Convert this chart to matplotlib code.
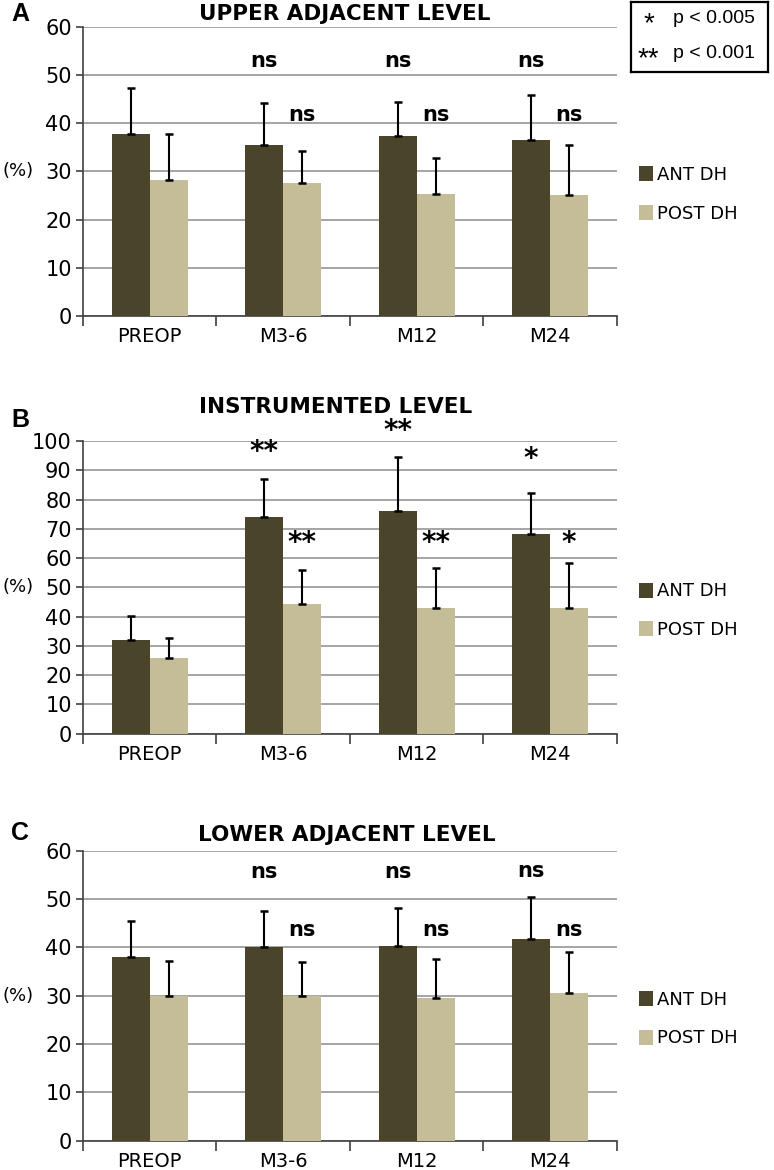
import numpy as np
import matplotlib.pyplot as plt

# categories and values
cats = ["PREOP", "M3-6", "M12", "M24"]
series = ["ANT DH", "POST DH"]

a_ant = [37.7, 35.5, 37.4, 36.6]
a_ant_err = [9.6, 8.7, 7.0, 9.2]
a_post = [28.2, 27.6, 25.4, 25.2]
a_post_err = [9.6, 6.6, 7.4, 10.2]

b_ant = [32.0, 74.2, 76.2, 68.2]
b_ant_err = [8.2, 12.9, 18.3, 13.9]
b_post = [25.9, 44.2, 42.8, 43.1]
b_post_err = [6.7, 11.7, 13.7, 15.1]

c_ant = [38.0, 40.0, 40.3, 41.7]
c_ant_err = [7.4, 7.6, 7.9, 8.6]
c_post = [30.0, 30.0, 29.5, 30.5]
c_post_err = [7.2, 7.0, 8.1, 8.5]

a_sig = ["", "ns", "ns", "ns"]
b_ant_sig = ["", "**", "**", "*"]
b_post_sig = ["", "**", "**", "*"]
c_sig = ["", "ns", "ns", "ns"]

key_marks = ["*", "**"]
key_text = ["p < 0.005", "p < 0.001"]

ANT_COL = "#4a452a"
POST_COL = "#c4bd97"
GRID_COL = "#969696"
FONT = "DejaVu Sans"

fig = plt.figure(figsize=(7.74, 11.7), dpi=100)


def panel(rect, letter, title, ant, ant_err, post, post_err, ymax,
          ant_sig, post_sig, ant_lab_y, post_lab_y, sig_size,
          title_x, title_off, letter_off):
    ax = fig.add_axes(rect)
    x = np.arange(len(cats))
    w = 0.285
    ax.bar(x - w / 2, ant, w, color=ANT_COL, zorder=3, label=series[0])
    ax.bar(x + w / 2, post, w, color=POST_COL, zorder=3, label=series[1])
    zeros = np.zeros(len(cats))
    ax.errorbar(x - w / 2, ant, yerr=[zeros, ant_err], fmt="none", ecolor="black",
                elinewidth=1.5, capsize=3.2, capthick=1.8, zorder=4)
    ax.errorbar(x + w / 2, post, yerr=[zeros, post_err], fmt="none", ecolor="black",
                elinewidth=1.5, capsize=3.2, capthick=1.8, zorder=4)

    ax.set_xlim(-0.5, len(cats) - 0.5)
    ax.set_ylim(0, ymax)
    ax.set_yticks(np.arange(0, ymax + 1, 10))
    ax.yaxis.grid(True, color=GRID_COL, linewidth=1.2, zorder=0)
    ax.set_axisbelow(True)
    for s in ["top", "right"]:
        ax.spines[s].set_visible(False)
    ax.spines["left"].set_color("#404040")
    ax.spines["bottom"].set_color("#404040")
    ax.spines["left"].set_linewidth(1.2)
    ax.spines["bottom"].set_linewidth(1.2)
    ax.set_xticks(np.arange(-0.5, len(cats), 1.0))
    ax.set_xticklabels([])
    ax.set_xticks(x, minor=True)
    ax.set_xticklabels(cats, minor=True, fontsize=14, family=FONT)
    ax.tick_params(axis="x", which="major", length=7, color="#404040", width=1.2)
    ax.tick_params(axis="x", which="minor", length=0, pad=8)
    ax.tick_params(axis="y", length=5, color="#404040", width=1.2, pad=3,
                   labelsize=15)

    for i in range(len(cats)):
        if ant_sig[i]:
            ax.text(x[i] - w / 2, max(ant_lab_y, ant[i] + ant_err[i] + 9 * ymax / 100),
                    ant_sig[i], ha="center", va="center", fontsize=sig_size,
                    fontweight="bold", family=FONT)
        if post_sig[i]:
            ax.text(x[i] + w / 2, post_lab_y, post_sig[i], ha="center", va="center",
                    fontsize=sig_size, fontweight="bold", family=FONT)

    ax.annotate(title, xy=(title_x, 1.0), xycoords="axes fraction",
                xytext=(0, title_off), textcoords="offset points",
                ha="center", va="center", fontsize=15.5, fontweight="bold", family=FONT)
    ax.text(-0.122, 0.5, "(%)", transform=ax.transAxes, ha="center", va="center",
            fontsize=13, family=FONT)
    ax.annotate(letter, xy=(0, 1.0), xycoords="axes fraction",
                xytext=(-45, letter_off), textcoords="offset points",
                ha="center", va="center", fontsize=18, fontweight="bold",
                family="Liberation Sans")

    ax.legend(loc="center left", bbox_to_anchor=(1.042, 0.42), frameon=False,
              prop={"family": FONT, "size": 13}, handlelength=0.75, handleheight=0.9,
              handletextpad=0.25, labelspacing=1.15, borderaxespad=0, borderpad=0)
    return ax


panel([0.107, 0.730, 0.690, 0.247], "A", "UPPER ADJACENT LEVEL",
      a_ant, a_ant_err, a_post, a_post_err, 60,
      a_sig, a_sig, 53, 41.8, 15, 0.49, 9.5, 9)
panel([0.107, 0.373, 0.690, 0.250], "B", "INSTRUMENTED LEVEL",
      b_ant, b_ant_err, b_post, b_post_err, 100,
      b_ant_sig, b_post_sig, 94, 65, 20, 0.474, 24.5, 15)
panel([0.107, 0.025, 0.690, 0.248], "C", "LOWER ADJACENT LEVEL",
      c_ant, c_ant_err, c_post, c_post_err, 60,
      c_sig, c_sig, 55.6, 43.6, 15, 0.495, 11.5, 13)

# significance key box, top right
box = fig.add_axes([0.815, 0.9385, 0.177, 0.0600])
box.set_xticks([])
box.set_yticks([])
for s in box.spines.values():
    s.set_linewidth(1.6)
for yy, m, t in zip([0.76, 0.26], key_marks, key_text):
    box.text(0.13, yy - 0.08, m, ha="center", va="center", fontsize=20,
             family="Liberation Sans")
    box.text(0.31, yy, t, ha="left", va="center", fontsize=14,
             family="Liberation Sans")

fig.savefig("out.png", dpi=100)
